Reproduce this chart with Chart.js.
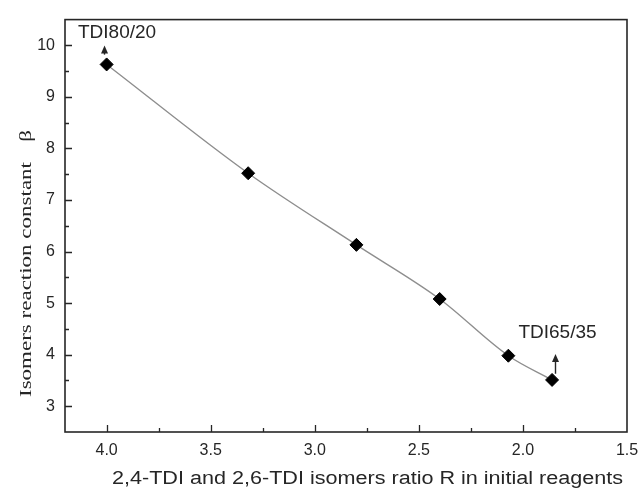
<!DOCTYPE html>
<html>
<head>
<meta charset="utf-8">
<script src="https://cdn.jsdelivr.net/npm/chart.js@4/dist/chart.umd.min.js"></script>
<style>
    html, body { margin: 0; padding: 0; background: #fff; }
</style>
</head>
<body>
<canvas id="tdiChart" width="640" height="489"></canvas>
<script>
// DONNÉES
const ratioR = [4.0, 3.32, 2.8, 2.4, 2.07, 1.86];
const betaValues = [9.63, 7.52, 6.13, 5.08, 3.98, 3.51];
const xRange = [1.5, 4.2];
const yRange = [2.5, 10.5];
const xTickValues = [1.5, 1.75, 2.0, 2.25, 2.5, 2.75, 3.0, 3.25, 3.5, 3.75, 4.0];
const yTickValues = [3, 3.5, 4, 4.5, 5, 5.5, 6, 6.5, 7, 7.5, 8, 8.5, 9, 9.5, 10];

// annotations (texte, position du texte, flèche : x, début, fin)
const noteLabels = ['TDI80/20', 'TDI65/35'];
const noteTextAt = [[3.95, 10.14], [1.834, 4.32]];
const noteArrows = [[4.014, 9.82, 10.0], [1.846, 3.63, 4.015]];

const xTitle = '2,4-TDI and 2,6-TDI isomers ratio R in initial reagents';
const yTitle = 'Isomers reaction constant';
const ySymbol = 'β';

const INK = '#262626';
Chart.defaults.font.family = '"Liberation Sans", Arial, sans-serif';
Chart.defaults.color = INK;

function isStep(v, step) {
    return Math.abs(v / step - Math.round(v / step)) < 1e-6;
}

// PLUGIN : cadre, graduations intérieures, annotations et titres
const decorPlugin = {
    id: 'decor',
    afterDraw(chart) {
        const { ctx, chartArea: a, scales: { x, y } } = chart;
        ctx.save();
        ctx.strokeStyle = INK;
        ctx.fillStyle = INK;

        // cadre
        ctx.lineWidth = 1.6;
        ctx.strokeRect(a.left, a.top, a.right - a.left, a.bottom - a.top);

        // graduations (majeures et mineures) vers l'intérieur
        ctx.lineWidth = 1.3;
        ctx.beginPath();
        x.ticks.forEach(t => {
            if (t.value <= x.min || t.value >= x.max) return;
            const px = Math.round(x.getPixelForValue(t.value)) + 0.5;
            const len = isStep(t.value, 0.5) ? 7 : 4;
            ctx.moveTo(px, a.bottom);
            ctx.lineTo(px, a.bottom - len);
        });
        y.ticks.forEach(t => {
            if (t.value <= y.min || t.value >= y.max) return;
            const py = Math.round(y.getPixelForValue(t.value)) + 0.5;
            const len = isStep(t.value, 1) ? 7 : 4;
            ctx.moveTo(a.left, py);
            ctx.lineTo(a.left + len, py);
        });
        ctx.stroke();

        // flèches
        ctx.lineWidth = 1.4;
        noteArrows.forEach(([ax, y0, y1]) => {
            const px = Math.round(x.getPixelForValue(ax)) + 0.5;
            const p0 = y.getPixelForValue(y0);
            const p1 = y.getPixelForValue(y1);
            ctx.beginPath();
            ctx.moveTo(px, p0);
            ctx.lineTo(px, p1 + 5);
            ctx.stroke();
            ctx.beginPath();
            ctx.moveTo(px, p1);
            ctx.lineTo(px - 3.5, p1 + 8);
            ctx.lineTo(px + 3.5, p1 + 8);
            ctx.closePath();
            ctx.fill();
        });

        // textes des annotations
        ctx.font = '19px "Liberation Sans", Arial, sans-serif';
        ctx.textAlign = 'center';
        ctx.textBaseline = 'alphabetic';
        noteLabels.forEach((txt, i) => {
            const [tx, ty] = noteTextAt[i];
            ctx.fillText(txt, x.getPixelForValue(tx), y.getPixelForValue(ty));
        });

        // titre de l'axe X (étiré comme sur l'original)
        ctx.font = '18px "Liberation Sans", Arial, sans-serif';
        ctx.textAlign = 'left';
        const xw = ctx.measureText(xTitle).width;
        ctx.save();
        ctx.translate(112, 484);
        ctx.scale(511 / xw, 1);
        ctx.fillText(xTitle, 0, 0);
        ctx.restore();

        // titre de l'axe Y (serif, vertical)
        ctx.font = '17px "Liberation Serif", "Times New Roman", serif';
        const yw = ctx.measureText(yTitle).width;
        const stretch = 235 / yw;
        ctx.save();
        ctx.translate(31, 397);
        ctx.rotate(-Math.PI / 2);
        ctx.scale(stretch, 1);
        ctx.fillText(yTitle, 0, 0);
        ctx.restore();
        ctx.save();
        ctx.translate(31, 136);
        ctx.rotate(-Math.PI / 2);
        ctx.scale(stretch, 1);
        ctx.textAlign = 'center';
        ctx.fillText(ySymbol, 0, 0);
        ctx.restore();

        ctx.restore();
    }
};

// GRAPHIQUE
const ctx = document.getElementById('tdiChart').getContext('2d');
new Chart(ctx, {
    type: 'line',
    data: {
        datasets: [{
            data: ratioR.map((r, i) => ({ x: r, y: betaValues[i] })),
            borderColor: '#8e8e8e',
            borderWidth: 1.4,
            cubicInterpolationMode: 'monotone',
            pointStyle: 'rectRot',
            pointRadius: 6.5,
            pointHoverRadius: 6.5,
            pointBackgroundColor: '#000',
            pointBorderColor: '#000',
            pointBorderWidth: 1,
            fill: false
        }]
    },
    options: {
        responsive: false,
        animation: false,
        devicePixelRatio: 1,
        layout: { padding: { top: 14, right: 13, left: 0, bottom: 0 } },
        plugins: {
            legend: { display: false },
            tooltip: { enabled: false }
        },
        scales: {
            x: {
                type: 'linear',
                reverse: true,
                min: xRange[0],
                max: xRange[1],
                afterBuildTicks: s => { s.ticks = xTickValues.map(v => ({ value: v })); },
                afterFit: s => { s.height = 57; },
                grid: { display: false, drawTicks: false },
                border: { display: false },
                ticks: {
                    autoSkip: false,
                    maxRotation: 0,
                    padding: 9,
                    font: { size: 16 },
                    color: INK,
                    callback: v => isStep(v, 0.5) ? v.toFixed(1) : ''
                }
            },
            y: {
                type: 'linear',
                min: yRange[0],
                max: yRange[1],
                afterBuildTicks: s => { s.ticks = yTickValues.map(v => ({ value: v })); },
                afterFit: s => { s.width = 65; },
                grid: { display: false, drawTicks: false },
                border: { display: false },
                ticks: {
                    autoSkip: false,
                    padding: 10,
                    font: { size: 16 },
                    color: INK,
                    callback: v => isStep(v, 1) ? String(v) : ''
                }
            }
        }
    },
    plugins: [decorPlugin]
});
</script>
</body>
</html>
